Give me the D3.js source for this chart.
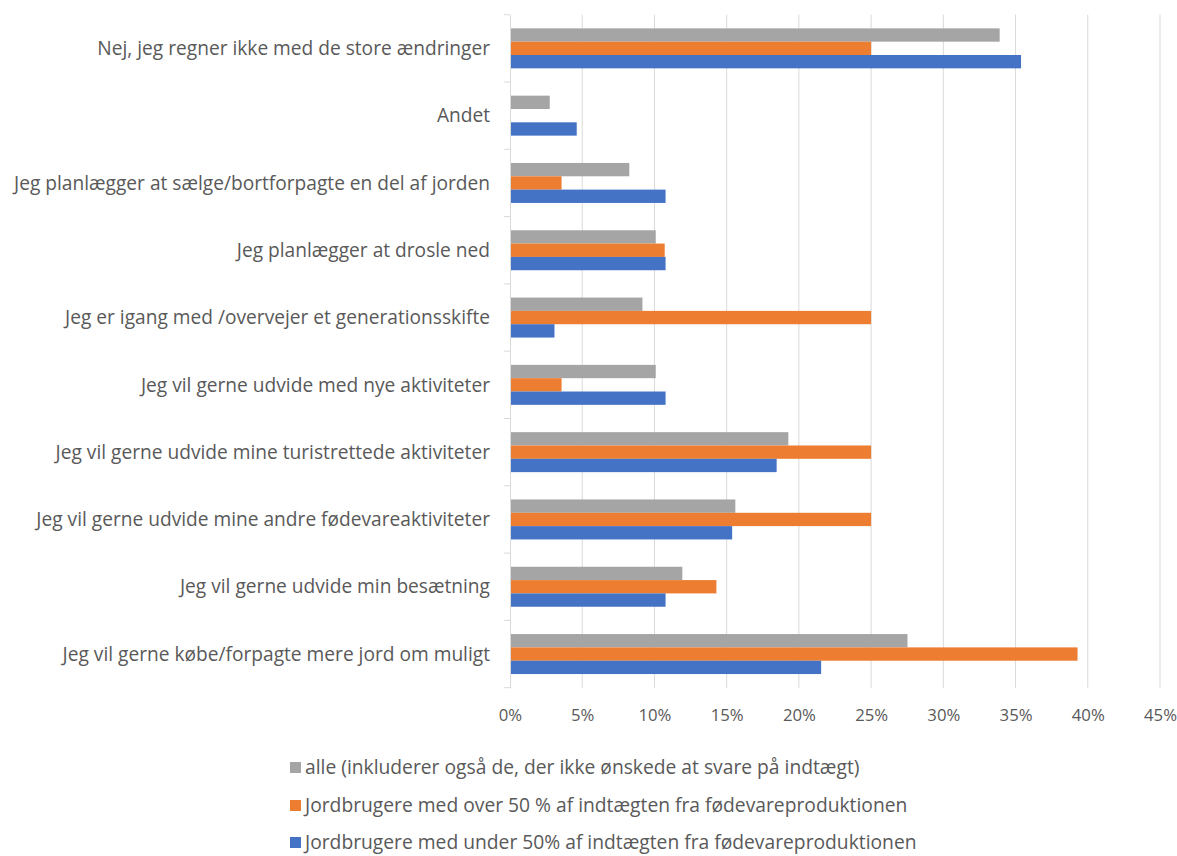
<!DOCTYPE html>
<html><head><meta charset="utf-8">
<script src="https://cdn.jsdelivr.net/npm/d3@7"></script>
<style>body{margin:0;background:#fff;} svg{display:block;}</style>
</head><body>
<script>
const categories = [
  "Nej, jeg regner ikke med de store ændringer",
  "Andet",
  "Jeg planlægger at sælge/bortforpagte en del af jorden",
  "Jeg planlægger at drosle ned",
  "Jeg er igang med /overvejer et generationsskifte",
  "Jeg vil gerne udvide med nye aktiviteter",
  "Jeg vil gerne udvide mine turistrettede aktiviteter",
  "Jeg vil gerne udvide mine andre fødevareaktiviteter",
  "Jeg vil gerne udvide min besætning",
  "Jeg vil gerne købe/forpagte mere jord om muligt"
];
const seriesNames = [
  "alle (inkluderer også de, der ikke ønskede at svare på indtægt)",
  "Jordbrugere med over 50 % af indtægten fra fødevareproduktionen",
  "Jordbrugere med under 50% af indtægten fra fødevareproduktionen"
];
const alle  = [33.9, 2.75, 8.26, 10.09, 9.17, 10.09, 19.27, 15.6, 11.93, 27.52];
const over  = [25.0, 0,    3.57, 10.71, 25.0, 3.57, 25.0, 25.0, 14.29, 39.29];
const under = [35.38, 4.62, 10.77, 10.77, 3.08, 10.77, 18.46, 15.38, 10.77, 21.54];
const xTicks = [0, 5, 10, 15, 20, 25, 30, 35, 40, 45];
const colors = ["#A5A5A5", "#ED7D31", "#4472C4"];

const W = 1177, H = 856;
const svg = d3.select("body").append("svg").attr("width", W).attr("height", H);
const fontFam = "'Open Sans', sans-serif";
const textCol = "#595959";

const x = d3.scaleLinear().domain([0, 45]).range([510, 1160]);
const y = d3.scaleBand().domain(categories).range([14.7, 687.7]).paddingInner(0.406).paddingOuter(0.203);
const ySub = d3.scaleBand().domain([0,1,2]).range([0, y.bandwidth()]);
const series = [alle, over, under];

function fitSize(txt, target) {
  const t = svg.append("text").attr("font-family", fontFam).attr("font-size", 16).text(txt);
  const w = t.node().getComputedTextLength();
  t.remove();
  return 16 * target / w;
}
const labelSize = fitSize(categories[0], 393);
const legendSize = fitSize(seriesNames[0], 555);
const tickSize = fitSize("10%", 33);

// gridlines
svg.append("g").selectAll("line").data(xTicks.slice(1)).join("line")
  .attr("x1", d => x(d)).attr("x2", d => x(d))
  .attr("y1", 14.7).attr("y2", 687.7)
  .attr("stroke", "#D9D9D9").attr("stroke-width", 1);

// bars
const g = svg.append("g");
categories.forEach((c, i) => {
  series.forEach((s, k) => {
    if (s[i] <= 0) return;
    g.append("rect")
      .attr("x", x(0)).attr("y", y(c) + ySub(k))
      .attr("width", x(s[i]) - x(0)).attr("height", ySub.bandwidth())
      .attr("fill", colors[k]);
  });
});

// y axis
const yAxis = d3.axisLeft(y).tickSize(0).tickFormat("");
const ya = svg.append("g").attr("transform", `translate(${x(0)},0)`).call(yAxis);
ya.select(".domain").attr("stroke", "#D9D9D9");
const step = y.step();
const bounds = d3.range(categories.length + 1).map(i => 14.7 + i * step);
svg.append("g").selectAll("line").data(bounds).join("line")
  .attr("x1", x(0) - 6).attr("x2", x(0)).attr("y1", d => d).attr("y2", d => d)
  .attr("stroke", "#D9D9D9");
svg.append("g").selectAll("text").data(categories).join("text")
  .attr("x", 490).attr("y", d => y(d) + y.bandwidth() / 2)
  .attr("dy", "0.35em").attr("text-anchor", "end")
  .attr("font-family", fontFam).attr("font-size", labelSize).attr("fill", textCol)
  .text(d => d);

// x labels
const xAxis = d3.axisBottom(x).tickValues(xTicks).tickFormat(d => d + "%").tickSize(0);
const xa = svg.append("g").attr("transform", "translate(0,706)").call(xAxis);
xa.select(".domain").remove();
xa.selectAll("text").attr("font-family", fontFam).attr("font-size", tickSize).attr("fill", textCol).attr("dy", "0.71em");

// legend
const legY = [767, 805, 842];
const lg = svg.append("g");
seriesNames.forEach((n, k) => {
  lg.append("rect").attr("x", 290).attr("y", legY[k] - 5).attr("width", 11).attr("height", 11).attr("fill", colors[k]);
  lg.append("text").attr("x", 305).attr("y", legY[k]).attr("dy", "0.35em")
    .attr("font-family", fontFam).attr("font-size", legendSize).attr("fill", textCol).text(n);
});
</script>
</body></html>
